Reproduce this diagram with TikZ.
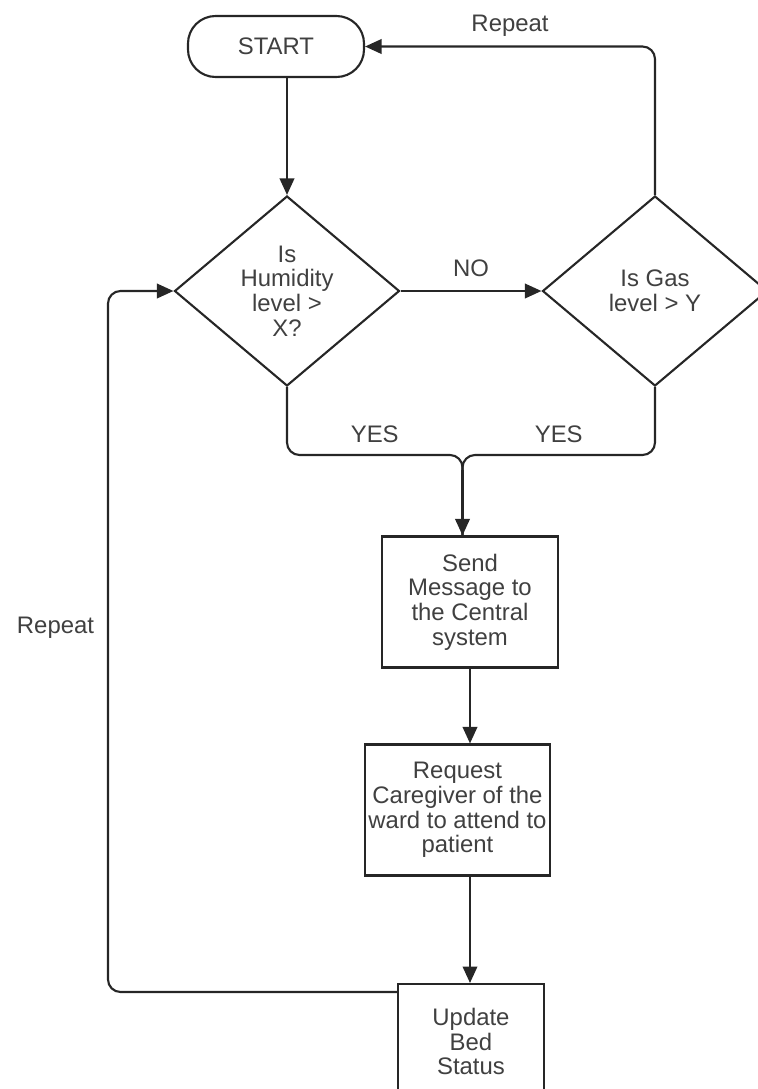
\documentclass[tikz,border=0pt]{standalone}
\usepackage{fontspec}
\setmainfont{Liberation Sans}
\usepackage{tikz}
\usetikzlibrary{shapes,arrows.meta,positioning,calc}

\begin{document}
\begin{tikzpicture}[
    line width=1.2pt,
    box/.style={rectangle, draw=black!85, line width=1.2pt, align=center, text=black!75, font=\fontsize{13.6}{14}\selectfont, inner sep=2pt},
    terminal/.style={box, rounded corners=0.55cm, minimum width=3.52cm, minimum height=1.22cm},
    decision/.style={box, diamond, minimum width=4.5cm, minimum height=3.8cm, inner sep=0pt},
    process/.style={box, minimum height=2.62cm},
    arrow/.style={-{Triangle[length=3.3mm, width=2.9mm]}, draw=black!85, line width=1.2pt},
    line/.style={draw=black!85, line width=1.2pt},
    lbl/.style={text=black!75, font=\fontsize{13.6}{14}\selectfont}
]
\useasboundingbox (0,0) rectangle (15.16,-21.78);

% Start
\node[terminal] (start) at (5.52,-0.93) {START};

% Decisions
\node[decision] (hum) at (5.74,-5.82) {Is\\Humidity\\level >\\X?};
\node[decision] (gas) at (13.1,-5.82) {Is Gas\\level > Y};

% Actions
\node[process, minimum width=3.52cm] (send) at (9.4,-12.04) {Send\\Message to\\the Central\\system};
\node[process, minimum width=3.66cm] (request) at (9.15,-16.2) {Request\\Caregiver of the\\ward to attend to\\patient};
\node[box, minimum width=2.92cm, minimum height=2.3cm, anchor=north] (update) at (9.42,-19.66) {Update\\Bed\\Status};

% Helper points
\coordinate (merge) at (9.25,-9.1);
\coordinate (loop) at (2.16,-19.84);
\coordinate (exit) at ($(update.north west)+(0,-0.18)$);

% Flow
\draw[arrow] (start.south -| hum.north) -- (hum.north);
\draw[arrow] (hum.east) -- node[above, lbl, yshift=4pt] {NO} (gas.west);
\draw[arrow, rounded corners=0.25cm] (gas.north) |- node[pos=0.75, above, lbl, yshift=2pt] {Repeat} (start.east);

% Yes branches join
\draw[line, rounded corners=0.25cm] (hum.south) |- node[pos=0.75, above, lbl, yshift=3pt] {YES} (merge) -- (merge |- send.north);
\draw[line, rounded corners=0.25cm] (gas.south) |- node[pos=0.75, above, lbl, yshift=3pt] {YES} (merge) -- (merge |- send.north);
\draw[arrow] ($(merge)+(0,-0.3)$) -- (merge |- send.north);

\draw[arrow] (send) -- (send.south |- request.north);
\draw[arrow] (send.south |- request.south) -- (send.south |- update.north);

% Loop back
\draw[arrow, rounded corners=0.25cm] (exit) -- (loop) |- node[pos=0.26, left, lbl, xshift=-4pt] {Repeat} (hum.west);

\end{tikzpicture}
\end{document}
